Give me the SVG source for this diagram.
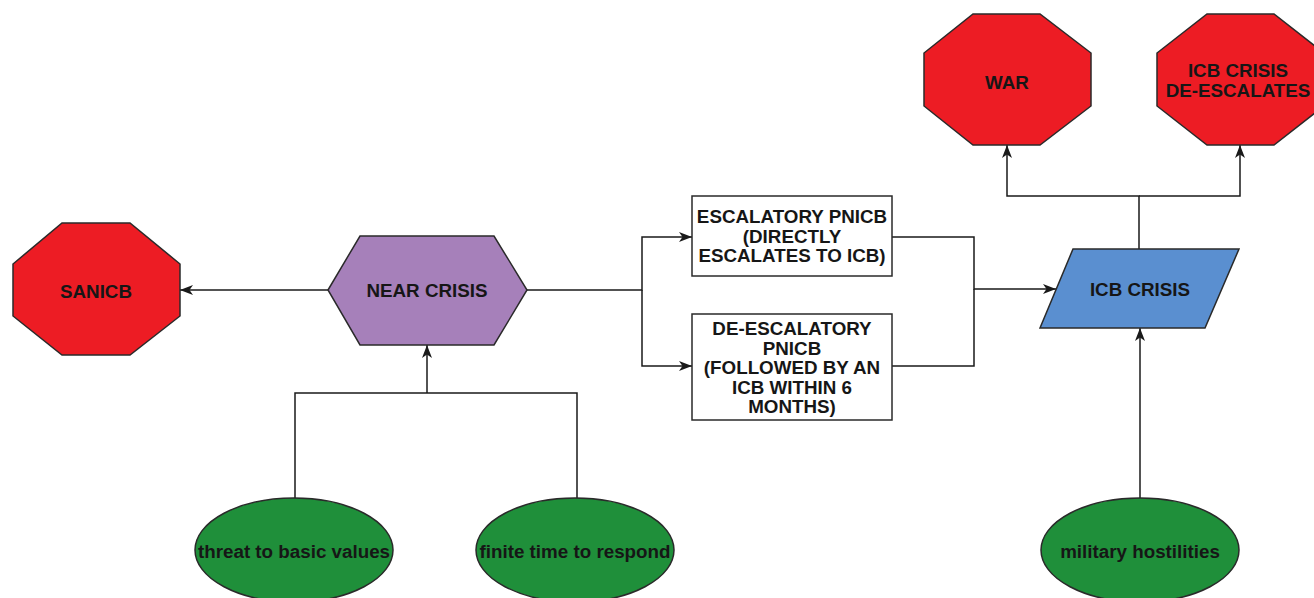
<svg xmlns="http://www.w3.org/2000/svg" width="1314" height="598" viewBox="0 0 1314 598">
  <style>
    .lbl { font-family: "Liberation Sans", Arial, sans-serif; font-weight: bold; font-size: 18.8px; fill: #161616; text-anchor: middle; }
    .stop { fill: #ED1C24; stroke: #2a2a2a; stroke-width: 1.5; }
    .hex { fill: #A680BA; stroke: #2a2a2a; stroke-width: 1.5; }
    .para { fill: #5A8FD0; stroke: #2a2a2a; stroke-width: 1.5; }
    .box { fill: #ffffff; stroke: #2a2a2a; stroke-width: 1.5; }
    .cond { fill: #1F8F3A; stroke: #2a2a2a; stroke-width: 1.5; }
    .edge { fill: none; stroke: #1a1a1a; stroke-width: 1.5; }
  </style>
  <defs>
    <marker id="arr" markerUnits="userSpaceOnUse" markerWidth="14" markerHeight="12" refX="13" refY="6" orient="auto">
      <path d="M0,1 L13,6 L0,11 L3.5,6 Z" fill="#1a1a1a"/>
    </marker>
  </defs>
  <rect width="1314" height="598" fill="#ffffff"/>

  <g id="connectors">
    <path class="edge" d="M328,290 H180" marker-end="url(#arr)"/>
    <path class="edge" d="M527,290 H642 V237 H692" marker-end="url(#arr)"/>
    <path class="edge" d="M642,290 V366 H692" marker-end="url(#arr)"/>
    <path class="edge" d="M892,237 H974 V289 H1056" marker-end="url(#arr)"/>
    <path class="edge" d="M892,366 H974 V289"/>
    <path class="edge" d="M1139,249 V196 H1007 V145" marker-end="url(#arr)"/>
    <path class="edge" d="M1139,196 H1240 V145" marker-end="url(#arr)"/>
    <path class="edge" d="M295,498 V393 H577 V498"/>
    <path class="edge" d="M427,393 V345" marker-end="url(#arr)"/>
    <path class="edge" d="M1140,498 V328" marker-end="url(#arr)"/>
  </g>

  <g id="sanicb">
    <polygon class="stop" points="62,223 130,223 180,264 180,316 130,355 62,355 13,316 13,264"/>
    <text class="lbl" x="96" y="297.5">SANICB</text>
  </g>

  <g id="near-crisis">
    <polygon class="hex" points="328,290 360,236 494,236 527,290 494,345 360,345"/>
    <text class="lbl" x="427" y="297">NEAR CRISIS</text>
  </g>

  <g id="escalatory">
    <rect class="box" x="692" y="196" width="200" height="80"/>
    <text class="lbl" x="792" y="223">ESCALATORY PNICB</text>
    <text class="lbl" x="792" y="243">(DIRECTLY</text>
    <text class="lbl" x="792" y="262">ESCALATES TO ICB)</text>
  </g>

  <g id="de-escalatory">
    <rect class="box" x="692" y="314" width="200" height="106"/>
    <text class="lbl" x="792" y="335">DE-ESCALATORY</text>
    <text class="lbl" x="792" y="354.5">PNICB</text>
    <text class="lbl" x="792" y="374">(FOLLOWED BY AN</text>
    <text class="lbl" x="792" y="393.5">ICB WITHIN 6</text>
    <text class="lbl" x="792" y="413">MONTHS)</text>
  </g>

  <g id="icb-crisis">
    <polygon class="para" points="1073,249 1239,249 1205,328 1040,328"/>
    <text class="lbl" x="1140" y="295.5">ICB CRISIS</text>
  </g>

  <g id="war">
    <polygon class="stop" points="973,14 1040,14 1091,53 1091,106 1040,145 973,145 924,106 924,53"/>
    <text class="lbl" x="1007" y="88.5">WAR</text>
  </g>

  <g id="icb-de-escalates">
    <polygon class="stop" points="1207,14 1274,14 1324,53 1324,106 1274,145 1207,145 1157,106 1157,53"/>
    <text class="lbl" x="1238" y="76.5">ICB CRISIS</text>
    <text class="lbl" x="1238" y="96.5">DE-ESCALATES</text>
  </g>

  <g id="threat">
    <ellipse class="cond" cx="294" cy="550" rx="99" ry="52"/>
    <text class="lbl" x="294" y="557.5">threat to basic values</text>
  </g>

  <g id="finite-time">
    <ellipse class="cond" cx="575" cy="550" rx="99" ry="52"/>
    <text class="lbl" x="575" y="557.5">finite time to respond</text>
  </g>

  <g id="military">
    <ellipse class="cond" cx="1140" cy="550" rx="99" ry="52"/>
    <text class="lbl" x="1140" y="557.5">military hostilities</text>
  </g>
</svg>
